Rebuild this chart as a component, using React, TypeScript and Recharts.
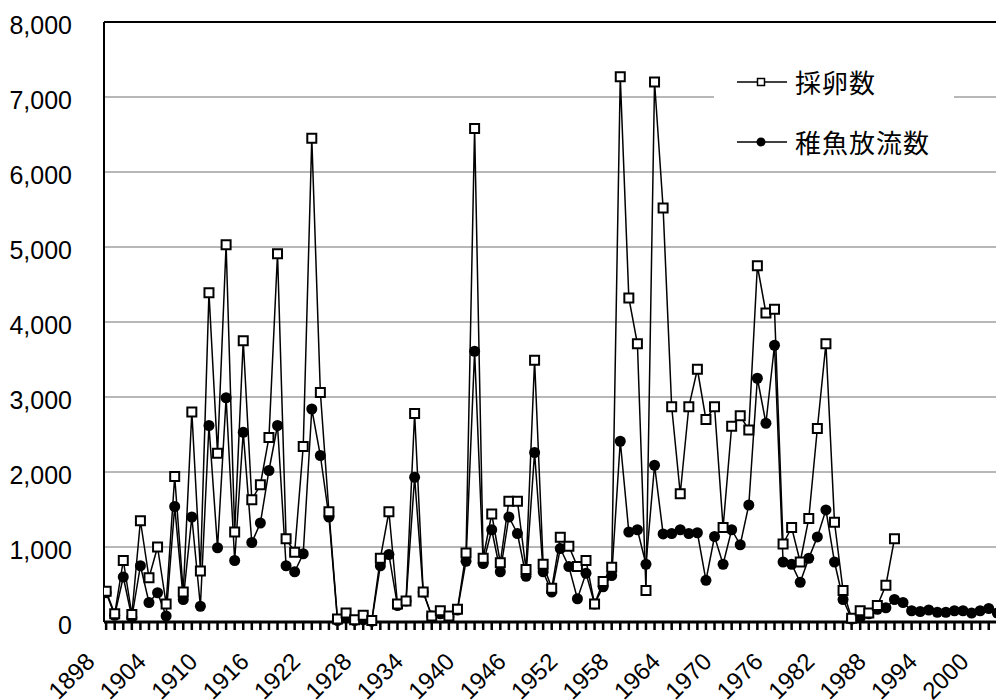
import React from 'react';
import { LineChart, Line, XAxis, YAxis, CartesianGrid, Legend, ReferenceLine } from 'recharts';

const years = [
  1898, 1899, 1900, 1901, 1902, 1903, 1904, 1905, 1906, 1907,
  1908, 1909, 1910, 1911, 1912, 1913, 1914, 1915, 1916, 1917,
  1918, 1919, 1920, 1921, 1922, 1923, 1924, 1925, 1926, 1927,
  1928, 1929, 1930, 1931, 1932, 1933, 1934, 1935, 1936, 1937,
  1938, 1939, 1940, 1941, 1942, 1943, 1944, 1945, 1946, 1947,
  1948, 1949, 1950, 1951, 1952, 1953, 1954, 1955, 1956, 1957,
  1958, 1959, 1960, 1961, 1962, 1963, 1964, 1965, 1966, 1967,
  1968, 1969, 1970, 1971, 1972, 1973, 1974, 1975, 1976, 1977,
  1978, 1979, 1980, 1981, 1982, 1983, 1984, 1985, 1986, 1987,
  1988, 1989, 1990, 1991, 1992, 1993, 1994, 1995, 1996, 1997,
  1998, 1999, 2000, 2001, 2002, 2003,
];

// 採卵数
const eggCounts: (number | null)[] = [
  410, 110, 820, 100, 1350, 590, 1000, 240, 1940, 400,
  2800, 680, 4390, 2250, 5030, 1200, 3750, 1630, 1830, 2460,
  4910, 1110, 930, 2340, 6450, 3060, 1470, 40, 120, 30,
  90, 20, 850, 1470, 240, 280, 2780, 400, 80, 150,
  80, 170, 920, 6580, 850, 1440, 790, 1610, 1610, 700,
  3490, 770, 450, 1130, 1010, 740, 820, 240, 540, 730,
  7270, 4320, 3710, 420, 7200, 5520, 2870, 1710, 2870, 3370,
  2700, 2870, 1260, 2610, 2750, 2560, 4750, 4120, 4170, 1040,
  1260, 800, 1380, 2580, 3710, 1330, 420, 50, 150, 120,
  220, 490, 1110, null, null, null, null, null, null, null,
  null, null, null, null, null, null,
];

// 稚魚放流数
const fryCounts: (number | null)[] = [
  390, 90, 600, 60, 750, 260, 390, 80, 1540, 300,
  1400, 210, 2620, 990, 2990, 820, 2530, 1060, 1320, 2020,
  2620, 750, 670, 910, 2840, 2220, 1400, 20, 60, 20,
  30, 10, 750, 900, 220, 280, 1930, 400, 80, 110,
  70, 160, 810, 3610, 780, 1230, 670, 1400, 1180, 610,
  2260, 670, 400, 980, 740, 310, 650, 240, 470, 620,
  2410, 1200, 1230, 770, 2090, 1175, 1180, 1230, 1180, 1190,
  556, 1140, 770, 1230, 1030, 1560, 3250, 2650, 3690, 800,
  770, 530, 850, 1135, 1495, 800, 300, 40, 60, 110,
  170, 190, 300, 260, 150, 140, 160, 130, 130, 150,
  150, 120, 150, 180, 120, 160,
];

const yTicks = [0, 1000, 2000, 3000, 4000, 5000, 6000, 7000, 8000];

const xTickYears = [
  1898, 1899, 1900, 1901, 1902, 1903, 1904, 1905, 1906, 1907,
  1908, 1909, 1910, 1911, 1912, 1913, 1914, 1915, 1916, 1917,
  1918, 1919, 1920, 1921, 1922, 1923, 1924, 1925, 1926, 1927,
  1928, 1929, 1930, 1931, 1932, 1933, 1934, 1935, 1936, 1937,
  1938, 1939, 1940, 1941, 1942, 1943, 1944, 1945, 1946, 1947,
  1948, 1949, 1950, 1951, 1952, 1953, 1954, 1955, 1956, 1957,
  1958, 1959, 1960, 1961, 1962, 1963, 1964, 1965, 1966, 1967,
  1968, 1969, 1970, 1971, 1972, 1973, 1974, 1975, 1976, 1977,
  1978, 1979, 1980, 1981, 1982, 1983, 1984, 1985, 1986, 1987,
  1988, 1989, 1990, 1991, 1992, 1993, 1994, 1995, 1996, 1997,
  1998, 1999, 2000, 2001, 2002, 2003, 2004,
];

const labelYears = [
  1898, 1904, 1910, 1916, 1922, 1928, 1934, 1940, 1946,
  1952, 1958, 1964, 1970, 1976, 1982, 1988, 1994, 2000,
];

const seriesNames = { eggs: '採卵数', fry: '稚魚放流数' };

const data = years.map((year, i) => ({
  year,
  eggs: eggCounts[i],
  fry: fryCounts[i],
}));

const NUM_FONT = "'Liberation Sans', Arial, sans-serif";
const CJK_FONT = "'Noto Sans CJK JP', 'Noto Sans', sans-serif";

const SquareDot = (props: any) => {
  const { cx, cy, index, payload } = props;
  if (cx == null || cy == null || payload == null || payload.eggs == null) {
    return <g key={`sq-${index}`} />;
  }
  return (
    <rect
      key={`sq-${index}`}
      x={cx - 4.5}
      y={cy - 4.5}
      width={9}
      height={9}
      fill="#fff"
      stroke="#000"
      strokeWidth={2}
    />
  );
};

const CircleDot = (props: any) => {
  const { cx, cy, index, payload } = props;
  if (cx == null || cy == null || payload == null || payload.fry == null) {
    return <g key={`ci-${index}`} />;
  }
  return <circle key={`ci-${index}`} cx={cx} cy={cy} r={5.5} fill="#000" />;
};

const YTick = (props: any) => {
  const { x, y, payload } = props;
  return (
    <g transform={`translate(${x},${y + 12})`}>
      <text
        x={0}
        y={0}
        textAnchor="end"
        fill="#000"
        style={{ fontFamily: NUM_FONT, fontSize: 25 }}
      >
        {Number(payload.value).toLocaleString('en-US')}
      </text>
    </g>
  );
};

const XTick = (props: any) => {
  const { x, y, payload } = props;
  if (!labelYears.includes(payload.value)) return <g />;
  const ax = x - 10;
  const ay = y + 33;
  return (
    <g transform={`translate(${ax},${ay}) rotate(-45)`}>
      <text
        x={0}
        y={0}
        textAnchor="end"
        fill="#000"
        style={{ fontFamily: NUM_FONT, fontSize: 24 }}
      >
        {payload.value}
      </text>
    </g>
  );
};

const LegendContent = (props: any) => {
  const { payload } = props;
  const items = (payload || []).slice().sort((a: any, b: any) =>
    a.dataKey === 'eggs' ? -1 : b.dataKey === 'eggs' ? 1 : 0
  );
  return (
    <div style={{ width: 240, height: 110, background: '#fff', position: 'relative' }}>
      {items.map((item: any, i: number) => (
        <div
          key={item.dataKey}
          style={{
            position: 'absolute',
            left: 23,
            top: i === 0 ? 12 : 72,
            height: 30,
            display: 'flex',
            alignItems: 'center',
          }}
        >
          <svg width={50} height={30} style={{ display: 'block' }}>
            <line x1={0} y1={15} x2={50} y2={15} stroke="#000" strokeWidth={1.5} />
            {item.dataKey === 'eggs' ? (
              <rect x={20.5} y={11.5} width={7} height={7} fill="#fff" stroke="#000" strokeWidth={1.5} />
            ) : (
              <circle cx={24} cy={15} r={4.5} fill="#000" />
            )}
          </svg>
          <span
            style={{
              marginLeft: 8,
              fontFamily: CJK_FONT,
              fontSize: 26,
              letterSpacing: 1,
              color: '#000',
              lineHeight: '30px',
              whiteSpace: 'nowrap',
            }}
          >
            {item.value}
          </span>
        </div>
      ))}
    </div>
  );
};

export default function App() {
  return (
    <div style={{ width: 996, height: 692, overflow: 'hidden', position: 'relative' }}>
      <LineChart
        width={1025}
        height={692}
        data={data}
        margin={{ top: 14, right: 10, bottom: 0, left: 0 }}
      >
        <CartesianGrid vertical={false} stroke="#707070" strokeWidth={1} />
        <XAxis
          dataKey="year"
          type="number"
          domain={[1897.75, 2005]}
          ticks={xTickYears}
          interval={0}
          height={78}
          tickSize={8}
          tickMargin={0}
          axisLine={{ stroke: '#000', strokeWidth: 3 }}
          tickLine={{ stroke: '#000', strokeWidth: 2.5 }}
          tick={XTick}
          allowDataOverflow
        />
        <YAxis
          width={96}
          domain={[0, 8000]}
          ticks={yTicks}
          interval={0}
          tickLine={false}
          tickSize={6}
          tickMargin={26}
          axisLine={{ stroke: '#000', strokeWidth: 2 }}
          tick={YTick}
        />
        <ReferenceLine y={8000} stroke="#000" strokeWidth={2} />
        <Legend
          layout="vertical"
          align="center"
          verticalAlign="middle"
          content={<LegendContent />}
          wrapperStyle={{ left: 706, top: 47, width: 240, height: 110 }}
        />
        <Line
          name={seriesNames.fry}
          dataKey="fry"
          stroke="#000"
          strokeWidth={1.5}
          dot={CircleDot}
          activeDot={false}
          isAnimationActive={false}
        />
        <Line
          name={seriesNames.eggs}
          dataKey="eggs"
          stroke="#000"
          strokeWidth={1.5}
          dot={SquareDot}
          activeDot={false}
          isAnimationActive={false}
        />
      </LineChart>
    </div>
  );
}
